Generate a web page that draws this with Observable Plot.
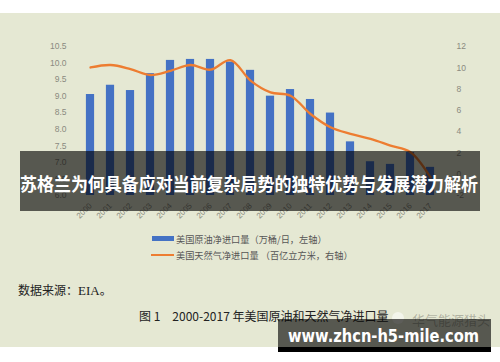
<!DOCTYPE html>
<html><head><meta charset="utf-8">
<script src="https://cdn.jsdelivr.net/npm/d3@7"></script>
<script src="https://cdn.jsdelivr.net/npm/@observablehq/plot@0.6"></script>
<style>
html,body{margin:0;padding:0;background:#fff;}
body{width:500px;height:362px;position:relative;overflow:hidden;font-family:"Noto Sans CJK SC","Noto Sans",sans-serif;}
.abs{position:absolute;white-space:nowrap;}
</style></head>
<body>
<div class="abs" style="left:0;top:13px;width:500px;height:334px;background:#e5e8d3"></div>
<div id="chart" class="abs" style="left:0;top:13px"></div>
<div id="legend"></div>
<div class="abs" id="source" style="left:18px;top:281px;font-size:12px;color:#222;line-height:18px"></div>
<div class="abs" id="caption" style="left:139px;top:307px;font-size:12px;color:#222;line-height:18px"></div>
<svg class="abs" style="left:0;top:0" width="500" height="362" id="overlay"></svg>
<script>
// ---- data ----
const years = ["2000","2001","2002","2003","2004","2005","2006","2007","2008","2009","2010","2011","2012","2013","2014","2015","2016","2017"];
const crudeImports = [9.05,9.33,9.17,9.68,10.08,10.11,10.11,10.03,9.78,9.00,9.20,8.90,8.49,7.62,7.02,6.94,7.30,6.85]; // 万桶/日 (left)
const gasImports = [10.03,10.26,9.88,9.32,9.72,10.26,9.82,10.72,8.80,7.69,7.38,5.66,4.41,3.79,3.32,2.69,2.07,-0.30]; // 百亿立方米 (right)
const leftTicks = [6.0,6.5,7.0,7.5,8.0,8.5,9.0,9.5,10.0,10.5];
const rightTicks = [-2,0,2,4,6,8,10,12];
const legendLabels = ["美国原油净进口量（万桶/日，左轴）","美国天然气净进口量 （百亿立方米，右轴）"];
const sourceText = "数据来源：EIA。";
const captionText = "图 1　2000-2017 年美国原油和天然气净进口量";
const titleText = "苏格兰为何具备应对当前复杂局势的独特优势与发展潜力解析";
const watermarkText = "www.zhcn-h5-mile.com";
const faintText = "华气能源猎头";

const leftDomain = [6, 10.5], rightDomain = [-2, 12];
const toLeft = v => leftDomain[0] + (v - rightDomain[0]) * (leftDomain[1]-leftDomain[0])/(rightDomain[1]-rightDomain[0]);
const fromLeft = v => rightDomain[0] + (v - leftDomain[0]) * (rightDomain[1]-rightDomain[0])/(leftDomain[1]-leftDomain[0]);

const crude = years.map((y,i)=>({year:y, v:crudeImports[i]}));
const gas = years.map((y,i)=>({year:y, v:toLeft(gasImports[i])}));

const chart = Plot.plot({
  width: 500, height: 215,
  marginTop: 33, marginBottom: 33, marginLeft: 78, marginRight: 58,
  style: {background: "transparent", fontFamily: "'Liberation Sans', sans-serif", fontSize: "8.5px", color: "#8a8a80", overflow: "visible"},
  x: {type: "band", domain: years, padding: 0, label: null},
  y: {domain: leftDomain, label: null},
  marks: [
    Plot.barY(crude, {x: "year", y1: leftDomain[0], y2: "v", fill: "#4472c4", insetLeft: 5.9, insetRight: 5.9}),
    Plot.line(gas, {x: "year", y: "v", stroke: "#ed7d31", strokeWidth: 2.3, curve: "catmull-rom"}),
    Plot.axisY({anchor: "left", ticks: leftTicks, tickFormat: d => d.toFixed(1), tickSize: 0, tickPadding: 12, label: null}),
    Plot.axisY({anchor: "right", ticks: rightTicks.map(toLeft), tickFormat: d => String(Math.round(fromLeft(d))), tickSize: 0, tickPadding: 14, label: null}),
    Plot.axisX({tickRotate: -45, tickSize: 0, tickPadding: 9, label: null, fontSize: "8px"})
  ]
});
document.getElementById("chart").appendChild(chart);

// legend
const lg = document.getElementById("legend");
lg.innerHTML =
  `<div class="abs" style="left:152px;top:236px;width:22px;height:5px;background:#4472c4"></div>
   <div class="abs" style="left:176px;top:232px;font-size:9.2px;color:#555;line-height:14px">${legendLabels[0]}</div>
   <div class="abs" style="left:151px;top:254px;width:23px;height:2px;background:#ed7d31"></div>
   <div class="abs" style="left:176px;top:248px;font-size:9.2px;color:#555;line-height:14px">${legendLabels[1]}</div>`;
document.getElementById("source").innerHTML = `数据来源：<span style="font-family:'Liberation Serif',serif;font-size:13px">EIA</span>。`;
document.getElementById("caption").textContent = captionText;

// overlays (banner + watermark)
const ov = d3.select("#overlay");
ov.append("text").attr("x",412).attr("y",325).attr("font-size",13).attr("fill","rgba(110,110,100,0.45)")
  .attr("font-family","'Noto Sans CJK SC'").text(faintText);
ov.append("circle").attr("cx",398).attr("cy",318).attr("r",6).attr("fill","rgba(255,255,255,0.55)");
ov.append("rect").attr("x",20).attr("y",151).attr("width",460).attr("height",60).attr("fill","rgba(0,0,0,0.62)");
ov.append("text").attr("x",20).attr("y",191).attr("font-size",18).attr("font-weight","bold").attr("fill","#fff")
  .attr("font-family","'Noto Sans CJK SC'").attr("textLength",458).attr("lengthAdjust","spacingAndGlyphs").text(titleText);
ov.append("rect").attr("x",278).attr("y",319).attr("width",213).attr("height",28).attr("fill","rgba(0,0,0,0.62)");
ov.append("rect").attr("x",278).attr("y",347).attr("width",213).attr("height",5).attr("fill","#000");
ov.append("text").attr("x",288).attr("y",342).attr("font-size",17).attr("font-weight","bold").attr("fill","#fff")
  .attr("font-family","'DejaVu Sans'").attr("textLength",191).attr("lengthAdjust","spacingAndGlyphs").text(watermarkText);
</script>
</body></html>
